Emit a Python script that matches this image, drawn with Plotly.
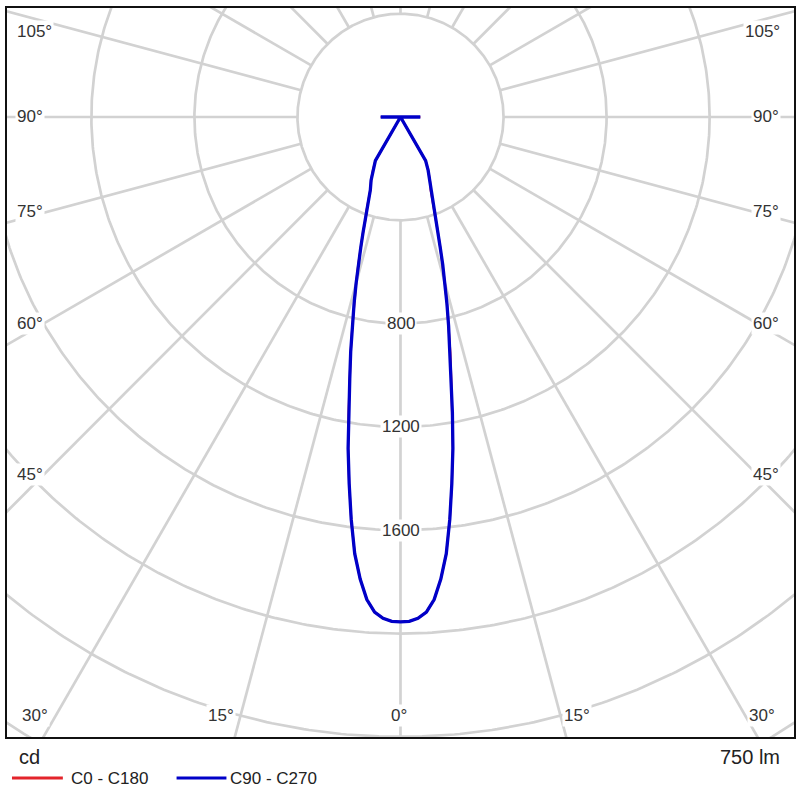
import numpy as np
import plotly.graph_objects as go

# ---------------- data ----------------
gamma_deg = [0, 1, 2, 3, 4, 5, 6, 7, 8, 9, 10, 11, 12, 13, 14, 15, 16, 17, 18, 19, 20,
             22.5, 25, 27.5, 30, 35, 45, 60, 75, 90, 105, 120, 135, 150, 165, 180]
c90_c270 = [1955, 1953, 1942, 1920, 1873, 1796, 1700, 1570, 1432, 1300, 1160, 1032, 930,
            830, 745, 665, 595, 527, 471, 417, 386, 306, 270, 232, 195, 0, 0, 0, 0, 77,
            0, 0, 0, 0, 0, 0]
c0_c180 = [1955, 1953, 1942, 1920, 1873, 1796, 1700, 1570, 1432, 1300, 1160, 1032, 930,
           830, 745, 665, 595, 527, 471, 417, 386, 306, 270, 232, 195, 0, 0, 0, 0, 77,
           0, 0, 0, 0, 0, 0]
series_names = ["C0 - C180", "C90 - C270"]
grid_radii = [400, 800, 1200, 1600, 2000, 2400, 2800]
radial_tick_labels = [800, 1200, 1600]
spoke_angles = list(range(0, 360, 15))
angle_tick_labels = ["105°", "90°", "75°", "60°", "45°", "30°", "15°", "0°"]
flux_text = "750 lm"
unit_text = "cd"

# ---------------- layout constants ----------------
W, H = 800, 800
ML, MR, MT, MB = 7, 4, 8, 63
PW, PH = W - ML - MR, H - MT - MB
CX_PX, CY_PX = 401.5, 117          # pole position in pixels
CD_PER_PX = 3.872
XR = [(ML - CX_PX) * CD_PER_PX, (ML + PW - CX_PX) * CD_PER_PX]
YR = [-(MT + PH - CY_PX) * CD_PER_PX, (CY_PX - MT) * CD_PER_PX]

FONT = "Liberation Sans, Arial, sans-serif"
GRID = "#d2d2d2"
TXT = "#333333"


def px2paper(px, py):
    return (px - ML) / PW, (MT + PH - py) / PH


def curve_xy(g, vals):
    g = np.radians(np.asarray(g, float))
    v = np.asarray(vals, float)
    xl, yl = -(v * np.sin(g))[::-1], -(v * np.cos(g))[::-1]
    xr, yr = v * np.sin(g), -v * np.cos(g)
    return np.concatenate([xl, xr]), np.concatenate([yl, yr])


fig = go.Figure()

# grid circles
cx, cy = [], []
t = np.linspace(0, 2 * np.pi, 721)
for r in grid_radii:
    cx += list(r * np.cos(t)) + [None]
    cy += list(r * np.sin(t)) + [None]
fig.add_trace(go.Scatter(x=cx, y=cy, mode="lines", line=dict(color=GRID, width=2.7),
                         hoverinfo="skip", showlegend=False))

# spokes (start at first circle)
sx, sy = [], []
for a in spoke_angles:
    ar = np.radians(a)
    r0, r1 = grid_radii[0], 4000
    sx += [r0 * np.sin(ar), r1 * np.sin(ar), None]
    sy += [-r0 * np.cos(ar), -r1 * np.cos(ar), None]
fig.add_trace(go.Scatter(x=sx, y=sy, mode="lines", line=dict(color=GRID, width=2.7),
                         hoverinfo="skip", showlegend=False))

# curves
colors = ["#e3242b", "#0000c8"]
widths = [2.2, 3.3]
for name, vals, col, w in zip(series_names, [c0_c180, c90_c270], colors, widths):
    x, y = curve_xy(gamma_deg, vals)
    fig.add_trace(go.Scatter(x=x, y=y, mode="lines", name=name,
                             line=dict(color=col, width=w), showlegend=False))

annotations = []
# radial labels
for v in radial_tick_labels:
    annotations.append(dict(x=0, y=-v, xref="x", yref="y", text=str(v), showarrow=False,
                            font=dict(family=FONT, size=17, color=TXT),
                            bgcolor="white", borderpad=1))

# angle labels (positions in pixels)
left_pos = [(35, 31), (30, 117), (30, 211), (30, 323), (30, 474), (35, 715), (222, 715), (400, 715)]
right_pos = [(764, 31), (768, 117), (768, 211), (768, 323), (768, 474), (764, 715), (578, 715)]
for txt, (px, py) in zip(angle_tick_labels, left_pos):
    xp, yp = px2paper(px, py)
    annotations.append(dict(x=xp, y=yp, xref="paper", yref="paper", text=txt, showarrow=False,
                            font=dict(family=FONT, size=17, color=TXT), bgcolor="white",
                            borderpad=1, xanchor="center", yanchor="middle"))
for txt, (px, py) in zip(angle_tick_labels[:-1], right_pos):
    xp, yp = px2paper(px, py)
    annotations.append(dict(x=xp, y=yp, xref="paper", yref="paper", text=txt, showarrow=False,
                            font=dict(family=FONT, size=17, color=TXT), bgcolor="white",
                            borderpad=1, xanchor="center", yanchor="middle"))

# unit and flux
xp, yp = px2paper(17, 757)
annotations.append(dict(x=xp, y=yp, xref="paper", yref="paper", text=unit_text, showarrow=False,
                        font=dict(family=FONT, size=20, color="#222"), xanchor="left", yanchor="middle"))
xp, yp = px2paper(784, 757)
annotations.append(dict(x=xp, y=yp, xref="paper", yref="paper", text=flux_text, showarrow=False,
                        font=dict(family=FONT, size=20, color="#222"), xanchor="right", yanchor="middle"))

# manual legend
shapes = []
leg = [(12, 63, 69), (177, 227, 229)]
for name, col, (x0, x1, xt) in zip(series_names, colors, leg):
    a0, b0 = px2paper(x0, 778)
    a1, _ = px2paper(x1, 778)
    shapes.append(dict(type="line", xref="paper", yref="paper", x0=a0, x1=a1, y0=b0, y1=b0,
                       line=dict(color=col, width=3)))
    at, _ = px2paper(xt, 778)
    annotations.append(dict(x=at, y=b0, xref="paper", yref="paper", text=name, showarrow=False,
                            font=dict(family=FONT, size=17, color="#222"), xanchor="left",
                            yanchor="middle"))

fig.update_layout(
    width=W, height=H, margin=dict(l=ML, r=MR, t=MT, b=MB),
    paper_bgcolor="white", plot_bgcolor="white",
    xaxis=dict(range=XR, showgrid=False, zeroline=False, showticklabels=False, ticks="",
               showline=True, mirror=True, linecolor="#111", linewidth=2, fixedrange=True),
    yaxis=dict(range=YR, showgrid=False, zeroline=False, showticklabels=False, ticks="",
               showline=True, mirror=True, linecolor="#111", linewidth=2, fixedrange=True),
    annotations=annotations, shapes=shapes, showlegend=False, hovermode=False,
)

fig.write_html(
    "out.html",
    include_plotlyjs=True,
    config={"displayModeBar": False},
    post_script="document.body.style.margin='0';document.body.style.padding='0';"
                "document.body.style.overflow='hidden';",
)
